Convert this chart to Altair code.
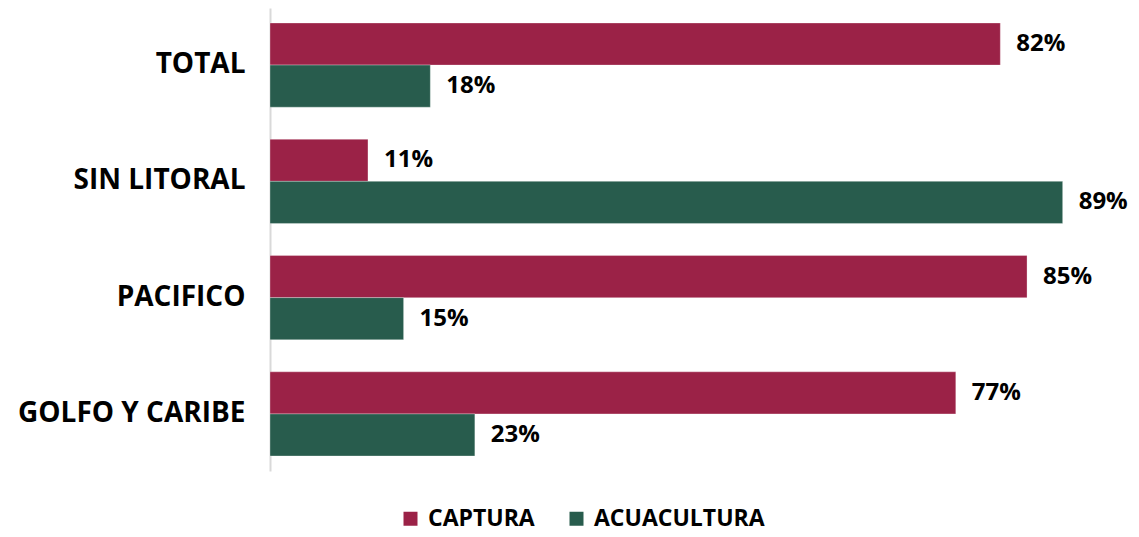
import altair as alt
import pandas as pd

regions = ["TOTAL", "SIN LITORAL", "PACIFICO", "GOLFO Y CARIBE"]
series = ["CAPTURA", "ACUACULTURA"]
captura = [82, 11, 85, 77]
acuacultura = [18, 89, 15, 23]
colors = ["#9B2247", "#285C4D"]

rows = []
for r, c, a in zip(regions, captura, acuacultura):
    rows.append({"region": r, "serie": series[0], "valor": c, "etiqueta": f"{c}%"})
    rows.append({"region": r, "serie": series[1], "valor": a, "etiqueta": f"{a}%"})
df = pd.DataFrame(rows)

FONT = "Open Sans"

y_enc = alt.Y(
    "region:N",
    sort=regions,
    title=None,
    scale=alt.Scale(paddingInner=0.276, paddingOuter=0.129),
    axis=alt.Axis(
        labelFont=FONT,
        labelFontSize=28,
        labelFontWeight="bold",
        labelColor="#000000",
        labelPadding=25,
        labelLimit=0,
        ticks=False,
        domainColor="#d9d9d9",
        domainWidth=2,
        grid=False,
    ),
)
x_enc = alt.X("valor:Q", scale=alt.Scale(domain=[0, 89.6], nice=False), axis=None)
yoff = alt.YOffset("serie:N", sort=series)

bars = alt.Chart(df).mark_bar(stroke="white", strokeWidth=0.6, strokeOpacity=0.5).encode(
    y=y_enc,
    x=x_enc,
    yOffset=yoff,
    color=alt.Color(
        "serie:N",
        sort=series,
        scale=alt.Scale(domain=series, range=colors),
        legend=alt.Legend(
            title=None,
            orient="none",
            direction="horizontal",
            legendX=129,
            legendY=499,
            symbolType="square",
            symbolSize=196,
            symbolStrokeWidth=0,
            labelFont=FONT,
            labelFontSize=23,
            labelFontWeight="bold",
            labelColor="#000000",
            labelOffset=6,
            labelLimit=0,
            columnPadding=30,
        ),
    ),
)

labels = alt.Chart(df).mark_text(
    align="left", baseline="middle", dx=16, font=FONT, fontSize=24, fontWeight="bold", color="#000000"
).encode(
    y=alt.Y("region:N", sort=regions),
    x="valor:Q",
    yOffset=yoff,
    text="etiqueta:N",
)

chart = (
    alt.layer(bars, labels)
    .properties(
        width=798,
        height=463,
        autosize=alt.AutoSizeParams(type="none"),
        padding={"left": 262, "top": 0, "right": 63, "bottom": 66},
    )
    .configure_view(stroke=None)
)

chart.save("out.html", embed_options={"renderer": "svg", "actions": False})
